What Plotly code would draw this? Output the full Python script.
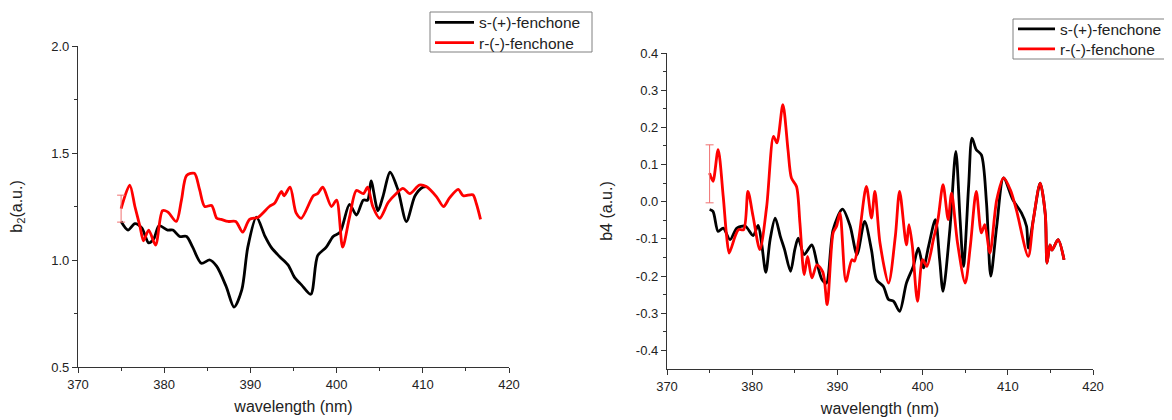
import plotly.graph_objects as go

# ---------------- data ----------------
wl_s_left = [375.0, 375.8, 376.6, 377.4, 378.2, 378.8, 379.4, 380.4, 381.0, 381.8,
             382.6, 383.3, 384.3, 385.3, 386.1, 387.2, 388.1, 389.0, 389.7, 390.7,
             391.7, 392.4, 393.4, 394.4, 395.1, 395.9, 397.0, 397.8, 398.8, 399.6,
             400.4, 401.5, 402.3, 403.1, 403.6, 404.0, 404.8, 405.4, 406.2, 407.1,
             408.1, 409.1, 410.0, 410.4]
b2_s = [1.18, 1.14, 1.17, 1.15, 1.08, 1.10, 1.16, 1.14, 1.14, 1.11,
        1.11, 1.06, 0.985, 1.00, 0.97, 0.875, 0.78, 0.86, 1.06, 1.20,
        1.11, 1.06, 1.015, 0.975, 0.92, 0.885, 0.84, 1.02, 1.06, 1.11,
        1.13, 1.26, 1.21, 1.28, 1.28, 1.37, 1.23, 1.30, 1.41, 1.33,
        1.18, 1.30, 1.34, 1.343]

wl_r_left = [375.0, 376.0, 376.6, 377.2, 377.6, 378.2, 379.0, 379.8, 380.4, 381.4,
             382.0, 382.6, 383.5, 384.1, 384.7, 385.5, 386.1, 386.6, 387.4, 388.3,
             389.1, 389.9, 390.9, 392.2, 392.8, 393.6, 393.9, 394.6, 395.3, 395.9,
             397.3, 397.8, 398.4, 399.4, 400.0, 400.7, 401.5, 402.3, 403.1, 403.6,
             404.2, 405.0, 406.0, 406.9, 407.7, 408.5, 409.6, 410.4, 411.6, 412.4,
             413.1, 414.1, 414.7, 415.8, 416.2, 416.7]
b2_r = [1.24, 1.35, 1.25, 1.155, 1.09, 1.14, 1.07, 1.23, 1.225, 1.18,
        1.28, 1.395, 1.405, 1.33, 1.25, 1.255, 1.195, 1.19, 1.18, 1.18,
        1.13, 1.19, 1.20, 1.25, 1.265, 1.32, 1.30, 1.34, 1.22, 1.195,
        1.30, 1.31, 1.34, 1.25, 1.28, 1.06, 1.20, 1.325, 1.31, 1.34,
        1.25, 1.195, 1.27, 1.31, 1.335, 1.31, 1.35, 1.343, 1.295, 1.25,
        1.29, 1.33, 1.30, 1.305, 1.265, 1.19]
b2_err_x = [375.0]
b2_err_y = [1.24]
b2_err = [0.063]

wl_s_right = [375.0, 375.4, 376.0, 376.6, 377.4, 378.2, 379.2, 380.1, 380.7, 381.1,
              381.6, 382.1, 382.7, 383.3, 383.8, 384.5, 385.0, 385.4, 386.1, 387.0,
              387.6, 388.2, 388.7, 389.5, 390.6, 391.5, 392.3, 393.2, 394.0, 394.6,
              395.4, 396.0, 396.6, 397.3, 398.1, 398.9, 399.5, 400.1, 400.7, 401.5,
              402.0, 402.4, 403.2, 403.9, 404.4, 404.8, 405.4, 405.8, 406.3, 406.9,
              407.5, 408.0, 408.7, 409.5, 410.6, 411.6, 412.2, 412.4, 413.0, 413.8,
              414.4, 414.6, 414.95, 415.2, 415.9, 416.6]
b4_s = [-0.021, -0.026, -0.08, -0.071, -0.102, -0.071, -0.066, -0.091, -0.064, -0.111,
        -0.19, -0.102, -0.044, -0.093, -0.129, -0.187, -0.129, -0.098, -0.142, -0.116,
        -0.165, -0.21, -0.219, -0.075, -0.02, -0.066, -0.142, -0.053, -0.13, -0.21,
        -0.228, -0.263, -0.268, -0.295, -0.219, -0.174, -0.125, -0.178, -0.12, -0.048,
        -0.156, -0.241, -0.075, 0.135, -0.048, -0.174, 0.041, 0.171, 0.14, 0.126,
        -0.003, -0.2, -0.066, 0.064, 0.005, -0.03, -0.066, -0.125, -0.048, 0.05,
        -0.034, -0.165, -0.116, -0.13, -0.102, -0.156]

wl_r_right = [375.0, 375.4, 376.0, 376.6, 377.0, 377.3, 378.0, 378.4, 379.0, 379.5,
              380.1, 380.9, 381.7, 382.5, 382.9, 383.6, 384.2, 384.6, 385.2, 385.6,
              386.1, 386.5, 387.0, 387.6, 388.3, 388.8, 389.5, 389.9, 390.3, 391.0,
              391.7, 392.0, 392.5, 393.4, 394.0, 394.4, 395.0, 396.0, 396.8, 397.3,
              398.1, 398.4, 398.8, 399.4, 400.0, 400.5, 401.3, 401.8, 402.4, 403.0,
              403.4, 404.1, 405.0, 405.6, 406.3, 406.9, 407.3, 407.9, 408.7, 409.5,
              410.3, 411.0, 412.4, 413.0, 413.8, 414.4, 414.6, 414.95, 415.2, 415.9,
              416.6]
b4_r = [0.077, 0.055, 0.14, 0.014, -0.093, -0.138, -0.093, -0.075, -0.075, 0.028,
        -0.039, -0.129, -0.013, 0.176, 0.158, 0.261, 0.14, 0.064, 0.041, -0.057,
        -0.196, -0.147, -0.205, -0.17, -0.19, -0.277, -0.084, -0.066, -0.03, -0.214,
        -0.156, -0.16, -0.102, 0.041, -0.044, 0.028, -0.111, -0.219, -0.093, 0.028,
        -0.116, -0.062, -0.12, -0.268, -0.156, -0.174, -0.098, -0.048, 0.046, -0.048,
        0.023, -0.111, -0.219, -0.12, 0.028, -0.084, -0.062, -0.138, 0.005, 0.064,
        0.032, -0.021, -0.147, -0.048, 0.05, -0.034, -0.165, -0.116, -0.13, -0.102,
        -0.156]
b4_err_x = [375.0]
b4_err_y = [0.075]
b4_err = [0.078]

x_ticks = [370, 380, 390, 400, 410, 420]
b2_ticks = [0.5, 1.0, 1.5, 2.0]
b2_ticklabels = ["0.5", "1.0", "1.5", "2.0"]
b4_ticks = [-0.4, -0.3, -0.2, -0.1, 0.0, 0.1, 0.2, 0.3, 0.4]
b4_ticklabels = ["-0.4", "-0.3", "-0.2", "-0.1", "0.0", "0.1", "0.2", "0.3", "0.4"]
b4_minor = [-0.35, -0.25, -0.15, -0.05, 0.05, 0.15, 0.25, 0.35]

name_s = "s-(+)-fenchone"
name_r = "r-(-)-fenchone"

# ---------------- figure ----------------
# the page body adds an 8px offset, so the figure is drawn 8px smaller
OFF = 8
W, H = 1172 - OFF, 420 - OFF
ML = 78 - OFF
MT = 46 - OFF
MB = H - (369 - OFF)
MR = W - (1093 - OFF)
PW, PH = W - ML - MR, H - MT - MB

FONT = "Liberation Sans, Arial, sans-serif"
TXT = "#222222"
AX = "#333333"
BLACK = "#000000"
RED = "#ff0000"
LW = 2.8


def dx(px):
    """reference-pixel x -> paper x"""
    return (px - OFF - ML) / PW


def dy(py):
    """reference-pixel y -> paper y"""
    return (H - MB - (py - OFF)) / PH


fig = go.Figure()
line_kw = dict(shape="spline", smoothing=0.8, width=LW)

# left panel
fig.add_trace(go.Scatter(x=wl_s_left, y=b2_s, mode="lines", name=name_s,
                         line=dict(color=BLACK, **line_kw), xaxis="x", yaxis="y",
                         legend="legend"))
fig.add_trace(go.Scatter(x=wl_r_left, y=b2_r, mode="lines", name=name_r,
                         line=dict(color=RED, **line_kw), xaxis="x", yaxis="y",
                         legend="legend2"))
fig.add_trace(go.Scatter(x=b2_err_x, y=b2_err_y, mode="markers", showlegend=False,
                         marker=dict(size=1, color="rgba(0,0,0,0)"),
                         error_y=dict(type="data", array=b2_err, color="#f07070",
                                      thickness=1, width=4),
                         xaxis="x", yaxis="y"))

# right panel
fig.add_trace(go.Scatter(x=wl_s_right, y=b4_s, mode="lines", name=name_s,
                         line=dict(color=BLACK, **line_kw), xaxis="x2", yaxis="y2",
                         legend="legend3"))
fig.add_trace(go.Scatter(x=wl_r_right, y=b4_r, mode="lines", name=name_r,
                         line=dict(color=RED, **line_kw), xaxis="x2", yaxis="y2",
                         legend="legend4"))
fig.add_trace(go.Scatter(x=b4_err_x, y=b4_err_y, mode="markers", showlegend=False,
                         marker=dict(size=1, color="rgba(0,0,0,0)"),
                         error_y=dict(type="data", array=b4_err, color="#f07070",
                                      thickness=1, width=4),
                         xaxis="x2", yaxis="y2"))

common_axis = dict(showline=True, linecolor=AX, linewidth=1.3, mirror=False,
                   showgrid=False, zeroline=False, ticks="outside", ticklen=5,
                   tickwidth=1.2, tickcolor=AX, automargin=False,
                   tickfont=dict(family=FONT, size=13, color=TXT))
minor_kw = dict(ticks="outside", ticklen=3, tickwidth=1.1, tickcolor=AX, showgrid=False)
title_font = dict(family=FONT, size=16, color=TXT)


def leg(ref_x, ref_y, iw):
    return dict(x=dx(ref_x), y=dy(ref_y), xanchor="left", yanchor="middle",
                borderwidth=0, bgcolor="rgba(0,0,0,0)",
                font=dict(family=FONT, size=15.5, color=TXT), itemwidth=iw)


fig.update_layout(
    width=W, height=H,
    margin=dict(l=ML, r=MR, t=MT, b=MB, autoexpand=False),
    paper_bgcolor="white", plot_bgcolor="white",
    font=dict(family=FONT, color=TXT, size=13),
    xaxis=dict(domain=[dx(78), dx(509)], anchor="y", range=[370, 420],
               tickvals=x_ticks, minor=dict(dtick=5, **minor_kw),
               title=dict(text="wavelength (nm)", font=title_font, standoff=10),
               **common_axis),
    yaxis=dict(domain=[dy(367), dy(46)], anchor="x", range=[0.5, 2.0],
               tickvals=b2_ticks, ticktext=b2_ticklabels,
               minor=dict(dtick=0.25, **minor_kw),
               title=dict(text="b<sub>2</sub>(a.u.)", font=title_font, standoff=32),
               **common_axis),
    xaxis2=dict(domain=[dx(667), dx(1093)], anchor="y2", range=[370, 420],
                tickvals=x_ticks, minor=dict(dtick=5, **minor_kw),
                title=dict(text="wavelength (nm)", font=title_font, standoff=10),
                **common_axis),
    yaxis2=dict(domain=[dy(369), dy(53)], anchor="x2", range=[-0.45, 0.4],
                tickvals=b4_ticks, ticktext=b4_ticklabels,
                minor=dict(tickvals=b4_minor, **minor_kw),
                title=dict(text="b4 (a.u.)", font=title_font, standoff=19),
                **common_axis),
    legend=leg(430, 22.7, 39),
    legend2=leg(430, 43, 39),
    legend3=leg(1013, 29.3, 37),
    legend4=leg(1013, 49.3, 37),
    shapes=[
        dict(type="rect", xref="paper", yref="paper",
             x0=dx(430), x1=dx(592), y0=dy(52), y1=dy(12),
             line=dict(color="#808080", width=1), fillcolor="rgba(0,0,0,0)", layer="above"),
        dict(type="rect", xref="paper", yref="paper",
             x0=dx(1013), x1=dx(1169), y0=dy(59), y1=dy(19),
             line=dict(color="#808080", width=1), fillcolor="rgba(0,0,0,0)", layer="above"),
    ],
)

fig.write_html("out.html")
